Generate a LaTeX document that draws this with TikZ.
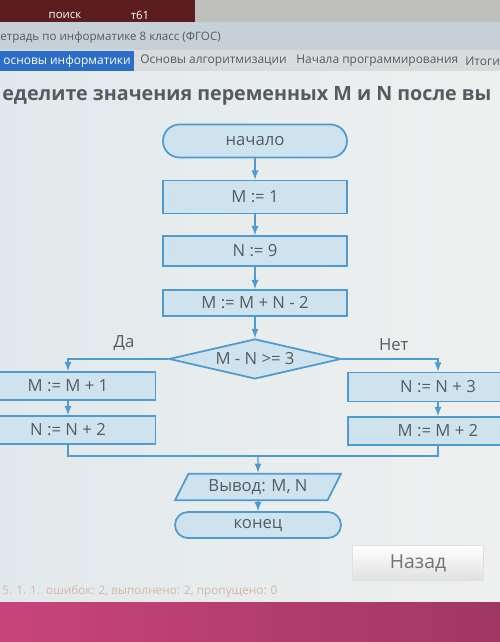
\documentclass[tikz,border=0pt]{standalone}
\usepackage{fontspec}
\setmainfont{Open Sans}
\usetikzlibrary{shapes.geometric, arrows, positioning}
\definecolor{flowblue}{HTML}{4F9BD0}
\definecolor{boxfill}{HTML}{CFE3EF}
\definecolor{flowtext}{HTML}{555B60}
\definecolor{screenbg}{HTML}{E2E9EC}
\definecolor{screenlight}{HTML}{EEF0EF}
\definecolor{titlegray}{HTML}{C6D0D7}
\definecolor{tabgray}{HTML}{D9DBDC}
\definecolor{tabblue}{HTML}{2C6DC6}
\definecolor{deskred}{HTML}{5B1D1E}
\definecolor{deskgray}{HTML}{BFC0BE}
\definecolor{deskpink}{HTML}{C8457A}
\definecolor{statuscol}{HTML}{D8B6A6}

\begin{document}
\begin{tikzpicture}[x=0.02cm, y=-0.02cm, node distance=1.08cm, font=\fontsize{9.5}{11}\selectfont]
\tikzstyle{op} = [rectangle, minimum width=3.68cm, minimum height=0.6cm, text centered, draw=flowblue, line width=1pt, fill=boxfill, text=flowtext]
\tikzstyle{term} = [op, rounded corners=0.33cm, minimum height=0.66cm]
\tikzstyle{check} = [diamond, aspect=4.3, minimum width=3.44cm, minimum height=0.8cm, inner sep=0pt, draw=flowblue, line width=1pt, fill=boxfill, text=flowtext]
\tikzstyle{io} = [trapezium, trapezium left angle=68, trapezium right angle=112, trapezium stretches=true, minimum width=3.34cm, minimum height=0.5cm, draw=flowblue, line width=1pt, fill=boxfill, text=flowtext]
\tikzstyle{arrow} = [flowblue, line width=0.8pt, -latex]
\tikzstyle{line} = [flowblue, line width=0.8pt]
\tikzstyle{ui} = [anchor=west, inner sep=0pt, text=flowtext]
\tikzstyle{tab} = [ui, font=\fontsize{6.8}{8}\selectfont]

\useasboundingbox (0,0) rectangle (500,642);
\clip (0,0) rectangle (500,642);

% desktop and window frame
\fill[deskred] (0,0) rectangle (195,22);
\fill[deskgray] (195,0) rectangle (500,22);
\fill[titlegray] (0,22) rectangle (500,50);
\fill[tabgray] (0,50) rectangle (500,72);
\fill[tabblue] (0,51) rectangle (134,71);
\shade[left color=screenbg, right color=screenlight] (0,72) rectangle (500,602);
\shade[left color=deskpink, right color=deskpink!80!black] (0,602) rectangle (500,642);

\node (search) [font=\fontsize{6.5}{7}\selectfont, text=white] at (65,15) {поиск};
\node (t61) [font=\fontsize{6.5}{7}\selectfont, text=white] at (140,15) {т61};
\node (wintitle) [ui, font=\fontsize{6.6}{8}\selectfont] at (0,37) {етрадь по информатике 8 класс (ФГОС)};
\node (tab1) [tab, text=white] at (3,61) {основы информатики};
\node (tab2) [tab] at (140,61) {Основы алгоритмизации};
\node (tab3) [tab] at (296,61) {Начала программирования};
\node (tab4) [tab] at (465,61) {Итоги};
\node (task) [ui, font=\bfseries\fontsize{11.2}{13}\selectfont] at (2,96) {еделите значения переменных M и N после вы};

% flowchart
\node (start) [term] at (255,141) {начало};
\node (m1) [op, below of=start, yshift=-0.04cm, minimum height=0.66cm] {M := 1};
\node (n9) [op, below of=m1] {N := 9};
\node (msum) [op, below of=n9, yshift=0.04cm, minimum height=0.52cm] {M := M + N - 2};
\node (cond) [check, below of=msum, yshift=-0.04cm] {M - N >= 3};

\node (yes1) [op, minimum width=3.5cm, minimum height=0.56cm] at (68,386) {M := M + 1};
\node (yes2) [op, below of=yes1, yshift=0.2cm, minimum width=3.5cm, minimum height=0.56cm] {N := N + 2};
\node (no1) [op, minimum width=3.6cm, minimum height=0.58cm] at (438,387) {N := N + 3};
\node (no2) [op, below of=no1, yshift=0.2cm, minimum width=3.6cm, minimum height=0.56cm] {M := M + 2};

\coordinate (join) at (258,456);
\node (out) [io] at (258,487) {Вывод: M, N};
\node (stop) [term, below of=out, yshift=0.32cm, minimum width=3.32cm, minimum height=0.52cm, rounded corners=0.26cm] {конец};

\draw[arrow] (start) -- (m1);
\draw[arrow] (m1) -- (n9);
\draw[arrow] (n9) -- (msum);
\draw[arrow] (msum) -- (cond);
\draw[arrow] (cond.west) -| node[pos=0.22, above=1pt, text=flowtext] (yes) {Да} (yes1.north);
\draw[arrow] (cond.east) -| node[pos=0.27, above=1pt, text=flowtext] (no) {Нет} (no1.north);
\draw[arrow] (yes1) -- (yes2);
\draw[arrow] (no1) -- (no2);
\draw[line] (yes2.south) |- (join) -| (no2.south);
\draw[arrow] (join) -- (out);
\draw[arrow] (out) -- (stop);

% bottom of the window
\node (back) [minimum width=2.62cm, minimum height=0.7cm, top color=white, bottom color=black!12, draw=black!12, text=black!55, font=\fontsize{11}{13}\selectfont] at (418,563) {Назад};
\node (status) [ui, text=statuscol, font=\fontsize{6.7}{7}\selectfont] at (2,591) {5. 1. 1.\ \ ошибок: 2, выполнено: 2, пропущено: 0};
\end{tikzpicture}
\end{document}
